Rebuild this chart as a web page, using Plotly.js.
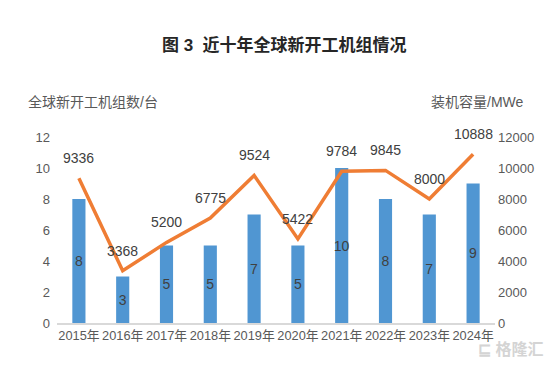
<!DOCTYPE html>
<html><head><meta charset="utf-8">
<script src="https://cdn.plot.ly/plotly-3.0.1.min.js"></script>
<style>body{margin:0;background:#fff}#c{width:553px;height:376px}</style>
</head><body><div id="c"></div>
<script>
const years = ["2015年","2016年","2017年","2018年","2019年","2020年","2021年","2022年","2023年","2024年"];
const units = [8,3,5,5,7,5,10,8,7,9];
const capacity = [9336,3368,5200,6775,9524,5422,9784,9845,8000,10888];
const leftTicks = [0,2,4,6,8,10,12];
const rightTicks = [0,2000,4000,6000,8000,10000,12000];

const FONT = '"Liberation Sans", "Noto Sans CJK SC", sans-serif';
const traces = [
  {type:'bar', x:years, y:units, text:units.map(String), textposition:'inside', insidetextanchor:'middle',
   constraintext:'none',
   textfont:{color:'#404040', size:14, family:FONT}, marker:{color:'#5096d2'}, width:0.3,
   hoverinfo:'none', cliponaxis:false},
  {type:'scatter', mode:'lines', x:years, y:capacity, yaxis:'y2',
   line:{color:'#ef7d34', width:3.5}, hoverinfo:'none'}
];
const annotations = capacity.map((v,i)=>({x:years[i], y:v, yref:'y2', xref:'x', text:String(v), showarrow:false,
  yshift:20, font:{size:14, color:'#404040', family:FONT}}));
annotations.push(
  {xref:'paper', yref:'paper', x:0.52, y:1, yshift:92, text:'<b>图 3  近十年全球新开工机组情况</b>', showarrow:false,
   font:{size:17, color:'#262626', family:FONT}},
  {xref:'paper', yref:'paper', x:-0.07, y:1, yshift:37, xanchor:'left', text:'全球新开工机组数/台', showarrow:false,
   font:{size:14, color:'#595959', family:FONT}},
  {xref:'paper', yref:'paper', x:1.07, y:1, yshift:37, xanchor:'right', text:'装机容量/MWe', showarrow:false,
   font:{size:14, color:'#595959', family:FONT}},
  {xref:'paper', yref:'paper', x:1.115, y:-0.2, xanchor:'right', text:'<b>⊑ 格隆汇</b>', showarrow:false,
   font:{size:16, color:'#d4d4d4', family:FONT}}
);
annotations[annotations.length-4].yshift = 104;
annotations[annotations.length-3].yshift = 45;
annotations[annotations.length-2].yshift = 45;
const layout = {
  width:553, height:376, margin:{l:57, r:58, t:137, b:53},
  paper_bgcolor:'#fff', plot_bgcolor:'#fff', showlegend:false,
  font:{family:FONT, color:'#595959', size:13},
  xaxis:{type:'category', showline:true, linecolor:'#d9d9d9', linewidth:1.5, ticks:'', showgrid:false,
    tickangle:0, tickfont:{size:12.8, color:'#595959'}},
  yaxis:{range:[0,12], tickvals:leftTicks, showgrid:false, zeroline:false, showline:false, ticks:'',
    tickfont:{size:13, color:'#595959'}, ticklabelstandoff:6},
  yaxis2:{range:[0,12000], tickvals:rightTicks, ticktext:rightTicks.map(String), overlaying:'y', side:'right',
    showgrid:false, zeroline:false, showline:false, ticks:'', tickfont:{size:13, color:'#595959'}, ticklabelstandoff:2},
  annotations:annotations
};
Plotly.newPlot('c', traces, layout, {staticPlot:true});
</script></body></html>
